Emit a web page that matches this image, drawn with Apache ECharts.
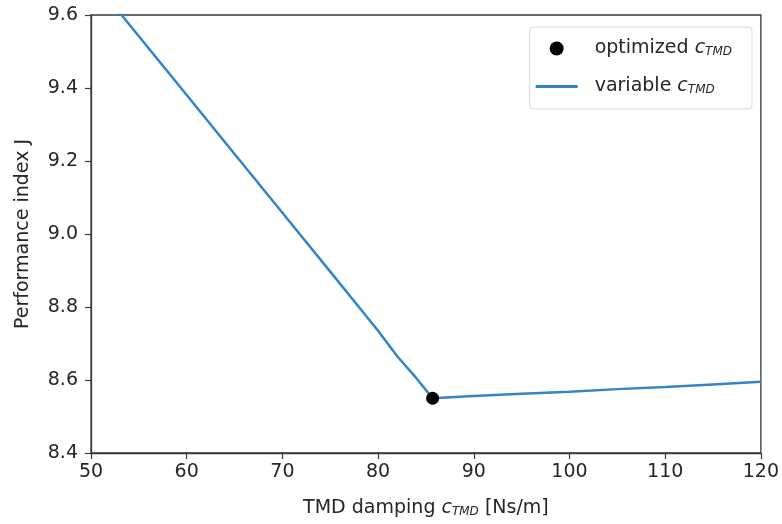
<!DOCTYPE html>
<html>
<head>
<meta charset="utf-8">
<script src="https://cdn.jsdelivr.net/npm/echarts@6/dist/echarts.min.js"></script>
<style>
  html, body { margin: 0; padding: 0; background: #fff; }
  #chart { width: 782px; height: 524px; }
</style>
</head>
<body>
<div id="chart"></div>
<script>
// Damping values c_TMD [Ns/m] and resulting performance index J
const dampingValues = [50, 55, 60, 65, 70, 75, 80, 82, 84, 85.7, 90, 95, 100, 105, 110, 115, 120];
const performanceValues = [9.703, 9.542, 9.381, 9.219, 9.058, 8.897, 8.735, 8.665, 8.605, 8.550, 8.556, 8.562, 8.568, 8.575, 8.581, 8.588, 8.595];

// Optimum found by the optimizer
const optimumDamping = [85.7];
const optimumPerformance = [8.55];

// Axis tick settings
const xTicks = { min: 50, max: 120, interval: 10 };
const yTicks = { min: 8.4, max: 9.6, interval: 0.2 };

const seriesNames = ['optimized', 'variable'];

const font = 'DejaVu Sans';
const textColor = '#262626';
const fontSize = 19;

const richSub = {
  n: { fontFamily: font, fontSize: fontSize, color: textColor, lineHeight: 22 },
  i: { fontFamily: font, fontSize: fontSize, color: textColor, fontStyle: 'italic', lineHeight: 22 },
  s: { fontFamily: font, fontSize: 12, color: textColor, fontStyle: 'italic', lineHeight: 22, padding: [7, 0, 0, 0] }
};

const chart = echarts.init(document.getElementById('chart'), null, { renderer: 'canvas' });

chart.setOption({
  animation: false,
  backgroundColor: '#ffffff',
  grid: {
    left: 91, right: 20, top: 15, bottom: 71,
    show: true, borderColor: '#3a3a3a', borderWidth: 1.3, containLabel: false
  },
  legend: {
    orient: 'vertical',
    right: 30, top: 27,
    padding: [12, 20, 13, 6],
    itemGap: 19,
    itemWidth: 42,
    itemHeight: 14,
    borderColor: '#d9d9d9',
    borderWidth: 1,
    borderRadius: 4,
    backgroundColor: '#fff',
    data: [
      { name: 'optimized', icon: 'circle' },
      // a flat bar standing in for the line sample
      { name: 'variable', icon: 'path://M0,0 H42 V3 H0 Z' }
    ],
    formatter: function (name) {
      return '{n|' + name + ' }{i|c}{s|TMD}';
    },
    textStyle: { rich: richSub, padding: [0, 0, 0, 12] }
  },
  xAxis: {
    type: 'value',
    min: xTicks.min, max: xTicks.max, interval: xTicks.interval,
    name: '{n|TMD damping }{i|c}{s|TMD}{n| [Ns/m]}',
    nameLocation: 'middle',
    nameGap: 44,
    nameTextStyle: { rich: richSub },
    axisLine: { show: true, lineStyle: { color: '#3a3a3a', width: 1.3 } },
    axisTick: { show: true, inside: false, length: 6, lineStyle: { color: '#3a3a3a', width: 1.2 } },
    axisLabel: { fontFamily: font, fontSize: fontSize, color: textColor, margin: 10 },
    splitLine: { show: false }
  },
  yAxis: {
    type: 'value',
    min: yTicks.min, max: yTicks.max, interval: yTicks.interval,
    name: 'Performance index J',
    nameLocation: 'middle',
    nameGap: 58,
    nameTextStyle: { fontFamily: font, fontSize: fontSize, color: textColor },
    axisLine: { show: true, lineStyle: { color: '#3a3a3a', width: 1.3 } },
    axisTick: { show: true, inside: false, length: 6, lineStyle: { color: '#3a3a3a', width: 1.2 } },
    axisLabel: {
      fontFamily: font, fontSize: fontSize, color: textColor, margin: 13,
      formatter: function (v) { return v.toFixed(1); }
    },
    splitLine: { show: false }
  },
  series: [
    {
      name: seriesNames[1],
      type: 'line',
      data: dampingValues.map((c, i) => [c, performanceValues[i]]),
      symbol: 'none',
      clip: true,
      lineStyle: { color: '#3385c6', width: 2.5 },
      itemStyle: { color: '#3385c6' },
      z: 2
    },
    {
      name: seriesNames[0],
      type: 'scatter',
      data: optimumDamping.map((c, i) => [c, optimumPerformance[i]]),
      symbol: 'circle',
      symbolSize: 13,
      itemStyle: { color: '#000', opacity: 1 },
      z: 3
    }
  ]
});
</script>
</body>
</html>
